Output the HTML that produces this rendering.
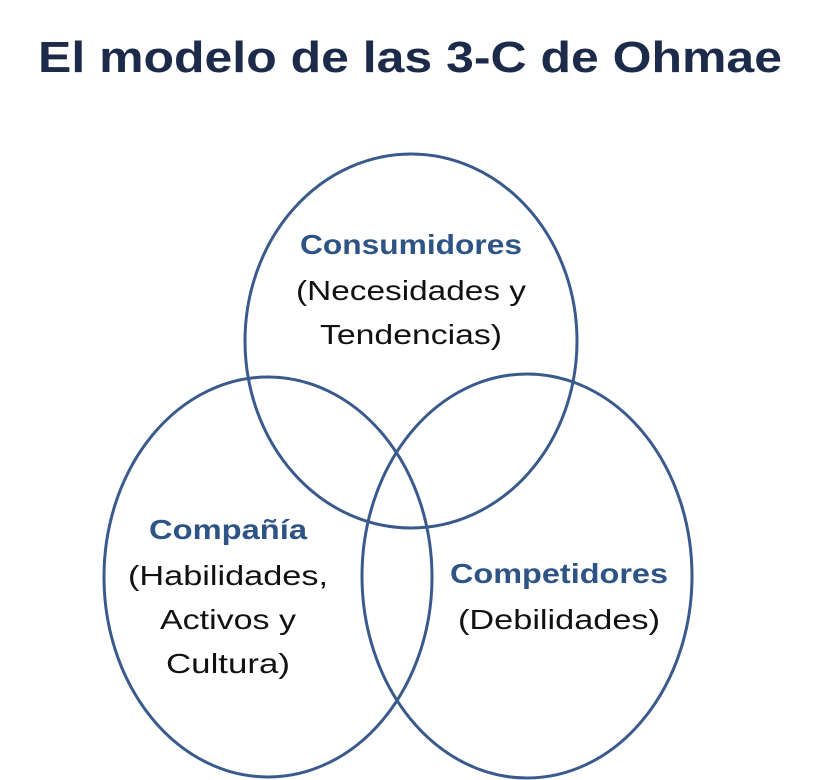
<!DOCTYPE html>
<html><head><meta charset="utf-8"><style>
html,body{margin:0;padding:0;background:#fff;}
svg{display:block;}
</style></head><body>
<svg width="820" height="780" viewBox="0 0 820 780" xmlns="http://www.w3.org/2000/svg">
<rect width="820" height="780" fill="#fff"/>
<text x="410" y="72" text-anchor="middle" font-family="Liberation Sans, sans-serif" font-weight="bold" font-size="44" fill="#1d2b4a" textLength="744" lengthAdjust="spacingAndGlyphs">El modelo de las 3-C de Ohmae</text>
<g fill="none" stroke="#3a5a8c" stroke-width="3">
<ellipse cx="411" cy="341" rx="166" ry="187"/>
<ellipse cx="268" cy="577" rx="164" ry="200"/>
<ellipse cx="527" cy="576" rx="165" ry="202"/>
</g>
<g font-family="Liberation Sans, sans-serif" font-size="28" text-anchor="middle">
<text x="411" y="254" font-weight="bold" fill="#2e5485" textLength="222" lengthAdjust="spacingAndGlyphs">Consumidores</text>
<text x="411" y="300" fill="#111" textLength="230" lengthAdjust="spacingAndGlyphs">(Necesidades y</text>
<text x="411" y="344" fill="#111" textLength="182" lengthAdjust="spacingAndGlyphs">Tendencias)</text>
<text x="228" y="539" font-weight="bold" fill="#2e5485" textLength="158" lengthAdjust="spacingAndGlyphs">Compañía</text>
<text x="228" y="585" fill="#111" textLength="200" lengthAdjust="spacingAndGlyphs">(Habilidades,</text>
<text x="228" y="629" fill="#111" textLength="136" lengthAdjust="spacingAndGlyphs">Activos y</text>
<text x="228" y="673" fill="#111" textLength="124" lengthAdjust="spacingAndGlyphs">Cultura)</text>
<text x="559" y="583" font-weight="bold" fill="#2e5485" textLength="218" lengthAdjust="spacingAndGlyphs">Competidores</text>
<text x="559" y="629" fill="#111" textLength="202" lengthAdjust="spacingAndGlyphs">(Debilidades)</text>
</g>
</svg>
</body></html>
